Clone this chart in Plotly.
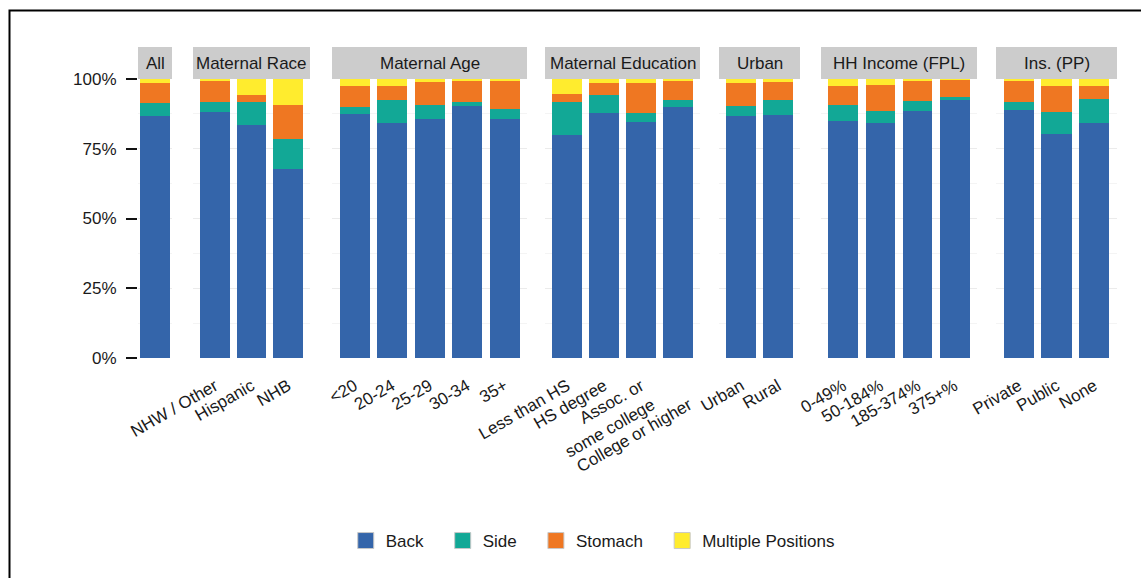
import plotly.graph_objects as go

# ---------------- data ----------------
groups = ["All", "Maternal Race", "Maternal Age", "Maternal Education",
          "Urban", "HH Income (FPL)", "Ins. (PP)"]
group_categories = [
    ["All"],
    ["NHW / Other", "Hispanic", "NHB"],
    ["<20", "20-24", "25-29", "30-34", "35+"],
    ["Less than HS", "HS degree", "Assoc. or some college", "College or higher"],
    ["Urban", "Rural"],
    ["0-49%", "50-184%", "185-374%", "375+%"],
    ["Private", "Public", "None"],
]
group_ticktext = [
    [""],
    ["NHW / Other", "Hispanic", "NHB"],
    ["<20", "20-24", "25-29", "30-34", "35+"],
    ["Less than HS", "HS degree", "Assoc. or<br>some college", " <br>College or higher"],
    ["Urban", "Rural"],
    ["0-49%", "50-184%", "185-374%", "375+%"],
    ["Private", "Public", "None"],
]
back = [86.8, 88.1, 83.6, 67.7, 87.3, 84.3, 85.6, 90.4, 85.8, 79.8, 87.7,
        84.6, 89.8, 86.6, 87.0, 84.8, 84.1, 88.4, 92.4, 88.9, 80.4, 84.3]
side = [4.5, 3.8, 8.1, 10.7, 2.6, 8.0, 5.2, 1.5, 3.5, 12.0, 6.7,
        3.3, 2.5, 3.6, 5.6, 6.0, 4.6, 3.6, 1.1, 2.7, 7.7, 8.7]
stomach = [7.3, 7.6, 2.4, 12.2, 7.5, 5.1, 8.0, 7.6, 10.0, 3.0, 4.1,
           10.8, 7.3, 8.3, 6.3, 6.6, 9.2, 7.6, 6.4, 7.6, 9.3, 4.4]
multiple = [1.4, 0.5, 5.9, 9.4, 2.6, 2.6, 1.2, 0.5, 0.7, 5.2, 1.5,
            1.3, 0.4, 1.5, 1.1, 2.6, 2.1, 0.4, 0.1, 0.8, 2.6, 2.6]
series_names = ["Back", "Side", "Stomach", "Multiple Positions"]
series_values = [back, side, stomach, multiple]
y_tickvals = [0, 25, 50, 75, 100]
y_ticktext = ["0%", "25%", "50%", "75%", "100%"]

# ---------------- styling ----------------
W, H = 1141, 578
colors = ["#3465AA", "#12A896", "#EF7722", "#FFEC2E"]
FONT = "Liberation Sans, Arial, sans-serif"
panel_px = [(138, 172), (193, 310), (332, 527), (545, 700),
            (719, 800), (821, 977), (996, 1117)]
plot_top, plot_bot = 79, 358
strip_top = 47
LEGEND_PAD = "\u00a0\u00a0\u00a0"


def py(p):
    return 1 - p / H


fig = go.Figure()

start = 0
for gi, cats in enumerate(group_categories):
    n = len(cats)
    xa = "x" if gi == 0 else f"x{gi + 1}"
    for si, (name, vals) in enumerate(zip(series_names, series_values)):
        fig.add_trace(go.Bar(
            x=cats, y=vals[start:start + n], name=name,
            xaxis=xa, yaxis="y", width=0.8,
            marker=dict(color=colors[si], line=dict(width=0)),
            showlegend=False,
        ))
    start += n

# legend-only entries
for si, name in enumerate(series_names):
    label = name + (LEGEND_PAD if si < len(series_names) - 1 else "")
    fig.add_trace(go.Scatter(
        x=[None], y=[None], mode="markers", name=label,
        xaxis="x", yaxis="y",
        marker=dict(symbol="square", size=18, color=colors[si],
                    line=dict(color="#c8c8c8", width=1)),
    ))

layout = dict(
    width=W, height=H,
    margin=dict(l=0, r=0, t=0, b=0, pad=0, autoexpand=False),
    paper_bgcolor="white", plot_bgcolor="white",
    barmode="stack", bargap=0,
    font=dict(family=FONT, size=17, color="#1a1a1a"),
    showlegend=True,
    legend=dict(orientation="h", x=0.5195, xanchor="center",
                y=py(541), yanchor="middle", traceorder="normal",
                font=dict(size=17, color="#1a1a1a"),
                itemwidth=30, tracegroupgap=0),
    yaxis=dict(domain=[py(plot_bot), py(plot_top)], range=[0, 100],
               tickvals=y_tickvals, ticktext=y_ticktext,
               ticks="outside", ticklen=11, tickwidth=2, tickcolor="#111",
               ticklabelstandoff=6, automargin=False,
               showgrid=True, gridcolor="#ebebeb", gridwidth=1,
               minor=dict(dtick=12.5, showgrid=True, gridcolor="#f4f4f4",
                          ticks=""),
               zeroline=False, showline=False, anchor="x",
               tickfont=dict(size=17, color="#1a1a1a")),
)

shapes = []
annotations = []
for gi, cats in enumerate(group_categories):
    n = len(cats)
    key = "xaxis" if gi == 0 else f"xaxis{gi + 1}"
    x0, x1 = panel_px[gi]
    rng = [-0.45, 0.45] if n == 1 else [-0.6, n - 0.4]
    layout[key] = dict(
        domain=[x0 / W, x1 / W], range=rng, type="category",
        anchor="y", showgrid=False, zeroline=False, showline=False,
        ticks="", tickangle=-30, automargin=False,
        tickvals=cats, ticktext=group_ticktext[gi],
        showticklabels=(n > 1),
        ticklabelstandoff=14,
        tickfont=dict(size=17, color="#1a1a1a"),
    )
    ref = "x" if gi == 0 else f"x{gi + 1}"
    shapes.append(dict(type="rect", xref=f"{ref} domain", yref="paper",
                       x0=0, x1=1, y0=py(plot_top), y1=py(strip_top),
                       fillcolor="#cccccc", line=dict(width=0), layer="below"))
    annotations.append(dict(text=groups[gi], xref=f"{ref} domain", yref="paper",
                            x=0.5, y=py((plot_top + strip_top) / 2),
                            xanchor="center", yanchor="middle", showarrow=False,
                            font=dict(size=17, color="#1a1a1a")))

# outer frame
shapes.append(dict(type="rect", xref="paper", yref="paper",
                   x0=9.5 / W, x1=1.02, y0=-0.02, y1=py(10.5),
                   line=dict(color="black", width=2), fillcolor="rgba(0,0,0,0)"))

layout["shapes"] = shapes
layout["annotations"] = annotations
fig.update_layout(**layout)

fig.write_html("out.html",
               config={"displayModeBar": False},
               post_script="document.body.style.margin='0px';"
                           "document.body.style.overflow='hidden';")
